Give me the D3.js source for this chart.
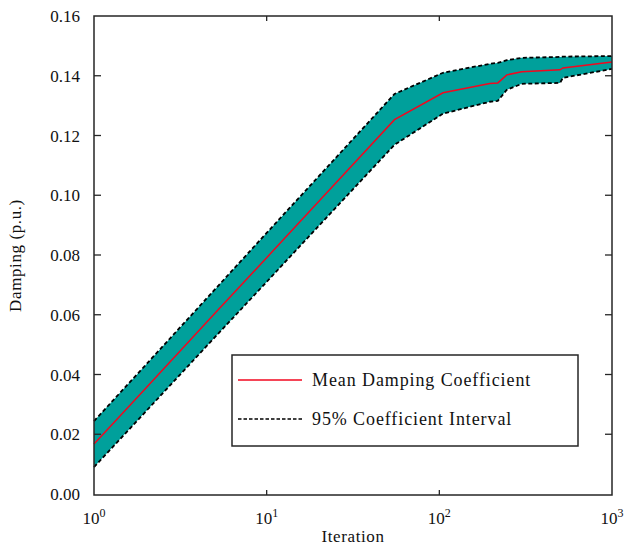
<!DOCTYPE html>
<html>
<head>
<meta charset="utf-8">
<script src="https://cdn.jsdelivr.net/npm/d3@7"></script>
<style>
    body { margin: 0; background: #fff; }
    text { font-family: "Liberation Serif", serif; fill: #111; }
</style>
</head>
<body>
<svg id="chart" width="628" height="547"></svg>
<script>
const iterations = [1, 2, 5, 10, 20, 55, 105, 196, 218, 246, 300, 500, 520, 1000];
const meanDamping = [0.0167, 0.0355, 0.0604, 0.0791, 0.0979, 0.1253, 0.1343, 0.1374, 0.1376, 0.1403, 0.1413, 0.1420, 0.1426, 0.1446];
const upperBound = [0.0244, 0.0433, 0.0684, 0.0874, 0.1063, 0.1339, 0.1410, 0.1440, 0.1443, 0.1452, 0.1460, 0.1463, 0.1464, 0.1466];
const lowerBound = [0.0090, 0.0277, 0.0524, 0.0710, 0.0897, 0.1169, 0.1273, 0.1313, 0.1316, 0.1353, 0.1373, 0.1376, 0.1393, 0.1423];

const yTicks = [0, 0.02, 0.04, 0.06, 0.08, 0.10, 0.12, 0.14, 0.16];
const xTicks = [1, 10, 100, 1000];
const legendLabels = ["Mean Damping Coefficient", "95% Coefficient Interval"];

const svg = d3.select("#chart");
const plotL = 94, plotR = 612, plotT = 16, plotB = 495;

const x = d3.scaleLog().domain([1, 1000]).range([plotL, plotR]);
const y = d3.scaleLinear().domain([0, 0.16]).range([plotB - 1, plotT]);

const rows = iterations.map((it, i) => ({ it: it, m: meanDamping[i], hi: upperBound[i], lo: lowerBound[i] }));

// shaded interval
svg.append("path")
    .datum(rows)
    .attr("fill", "#00a09b")
    .attr("d", d3.area().x(d => x(d.it)).y0(d => y(d.lo)).y1(d => y(d.hi)));

// dashed interval edges
["hi", "lo"].forEach(k => {
    svg.append("path")
        .datum(rows)
        .attr("fill", "none")
        .attr("stroke", "#000")
        .attr("stroke-width", 1.8)
        .attr("stroke-dasharray", "4,2.5")
        .attr("d", d3.line().x(d => x(d.it)).y(d => y(d[k])));
});

// mean line
svg.append("path")
    .datum(rows)
    .attr("fill", "none")
    .attr("stroke", "#f2071f")
    .attr("stroke-width", 1.5)
    .attr("d", d3.line().x(d => x(d.it)).y(d => y(d.m)));

// axes box
svg.append("rect")
    .attr("x", plotL).attr("y", plotT)
    .attr("width", plotR - plotL).attr("height", plotB - plotT)
    .attr("fill", "none").attr("stroke", "#262626").attr("stroke-width", 1.5);

// ticks (inside, mirrored)
const tickG = svg.append("g").attr("stroke", "#262626").attr("stroke-width", 1.3);
yTicks.slice(1, -1).forEach(t => {
    tickG.append("line").attr("x1", plotL).attr("x2", plotL + 7).attr("y1", y(t)).attr("y2", y(t));
    tickG.append("line").attr("x1", plotR - 7).attr("x2", plotR).attr("y1", y(t)).attr("y2", y(t));
});
xTicks.slice(1, -1).forEach(t => {
    tickG.append("line").attr("x1", x(t)).attr("x2", x(t)).attr("y1", plotB).attr("y2", plotB - 5);
    tickG.append("line").attr("x1", x(t)).attr("x2", x(t)).attr("y1", plotT).attr("y2", plotT + 5);
});

// y tick labels
svg.append("g").selectAll("text")
    .data(yTicks)
    .join("text")
    .attr("x", 80)
    .attr("y", d => y(d) + 6)
    .attr("text-anchor", "end")
    .style("font-size", "17px")
    .text(d => d3.format(".2f")(d));

// x tick labels 10^n
const xl = svg.append("g").selectAll("text")
    .data(xTicks)
    .join("text")
    .attr("x", d => x(d))
    .attr("y", 524)
    .attr("text-anchor", "middle")
    .style("font-size", "17px");
xl.append("tspan").text("10");
xl.append("tspan").attr("dy", -7).style("font-size", "12px").text(d => Math.round(Math.log10(d)));

// axis titles
svg.append("text")
    .attr("x", (plotL + plotR) / 2).attr("y", 542)
    .attr("text-anchor", "middle")
    .style("font-size", "17px").style("letter-spacing", "0.6px")
    .text("Iteration");

svg.append("text")
    .attr("transform", "translate(21," + ((plotT + plotB) / 2) + ") rotate(-90)")
    .attr("text-anchor", "middle")
    .style("font-size", "17px").style("letter-spacing", "0.6px")
    .text("Damping (p.u.)");

// legend
const lg = svg.append("g");
lg.append("rect")
    .attr("x", 232).attr("y", 355).attr("width", 346).attr("height", 91)
    .attr("fill", "#fff").attr("stroke", "#262626").attr("stroke-width", 1.5);
lg.append("line")
    .attr("x1", 238).attr("x2", 302).attr("y1", 380).attr("y2", 380)
    .attr("stroke", "#f2071f").attr("stroke-width", 1.5);
lg.append("line")
    .attr("x1", 238).attr("x2", 302).attr("y1", 419).attr("y2", 419)
    .attr("stroke", "#000").attr("stroke-width", 1.5).attr("stroke-dasharray", "3.5,2");
lg.selectAll("text.lbl")
    .data(legendLabels)
    .join("text")
    .attr("class", "lbl")
    .attr("x", 312)
    .attr("y", (d, i) => 386 + i * 39)
    .style("font-size", "18px").style("letter-spacing", "0.9px")
    .text(d => d);
</script>
</body>
</html>
